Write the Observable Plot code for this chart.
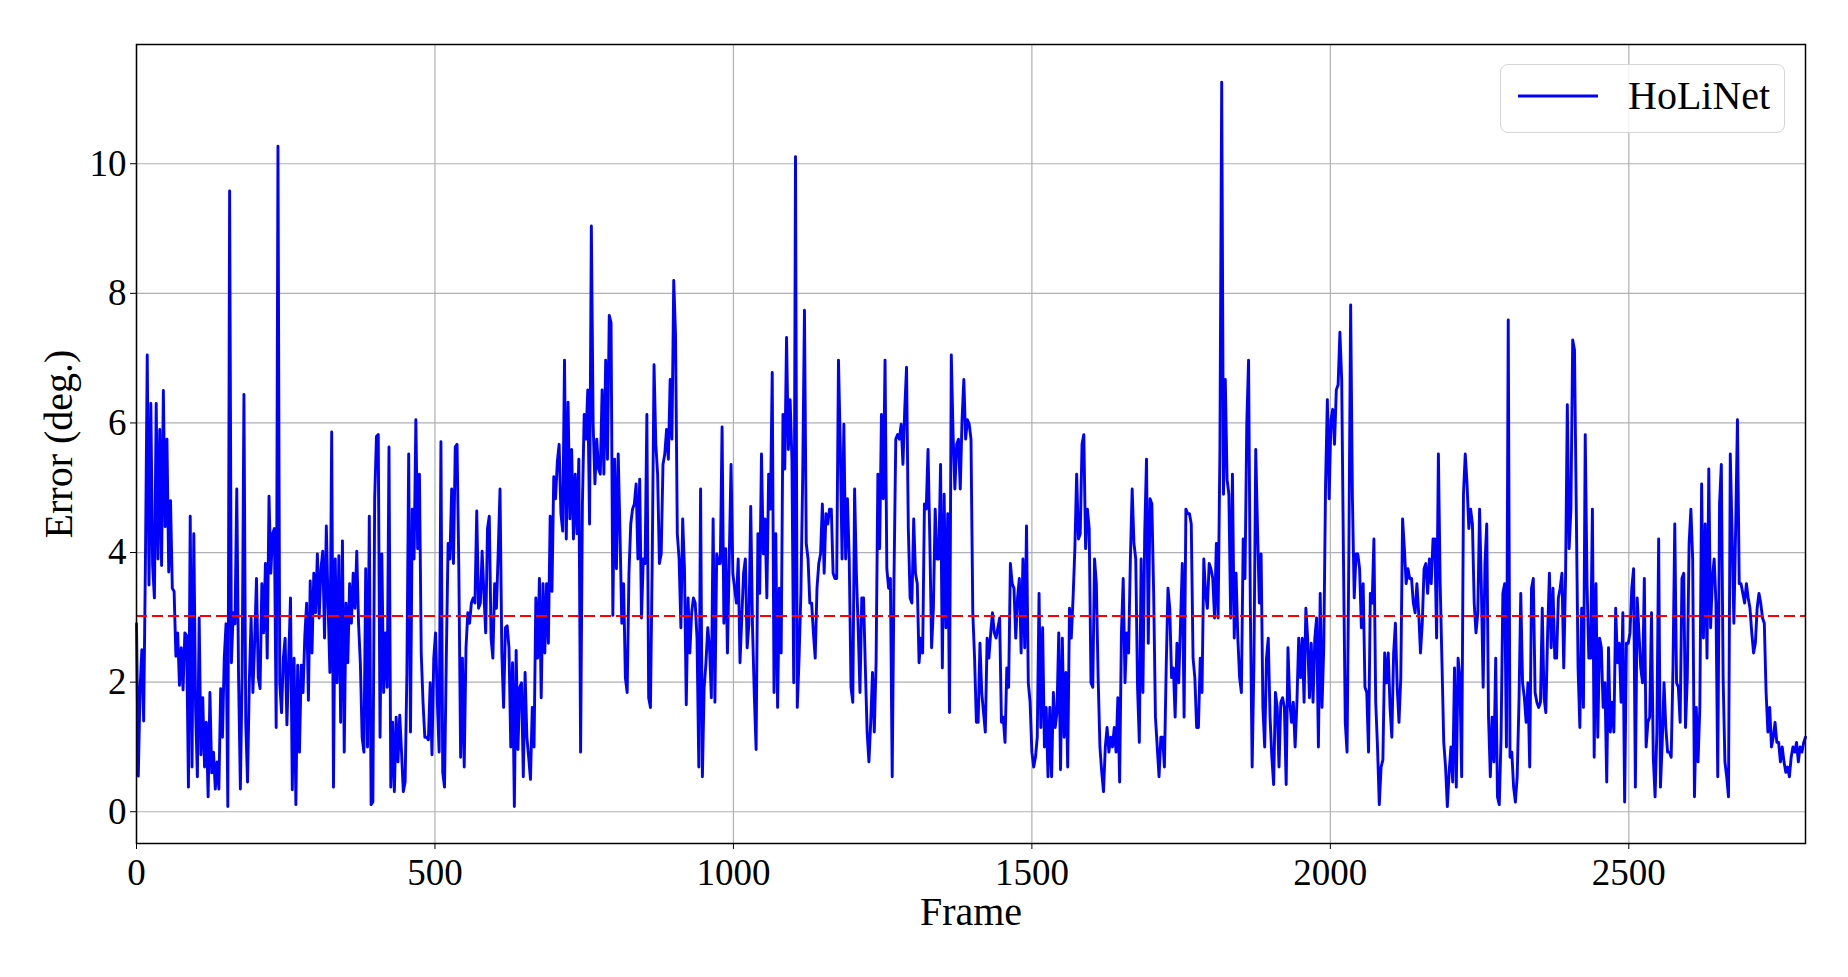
<!DOCTYPE html>
<html>
<head>
<meta charset="utf-8">
<script src="https://cdn.jsdelivr.net/npm/d3@7"></script>
<script src="https://cdn.jsdelivr.net/npm/@observablehq/plot@0.6"></script>
<style>
  html, body { margin: 0; padding: 0; background: #ffffff; }
  #wrap { position: relative; width: 1848px; height: 977px; font-family: "Liberation Serif", "Times New Roman", serif; }
  #legend { position: absolute; left: 1500px; top: 64px; width: 285px; height: 69px; box-sizing: border-box;
            border: 1.5px solid #d6d6d6; border-radius: 8px; background: rgba(255,255,255,0.85); }
  #legend svg { position: absolute; left: 0; top: 0; overflow: visible; }
</style>
</head>
<body>
<div id="wrap"></div>
<script>
// ---- data (one value every FRAME_STEP frames) ----
const FRAME_STEP = 3;
const segmentStarts = [0, 243, 486, 720, 954, 1188, 1425, 1659, 1896, 2130, 2364, 2598];

const errSeg01 = [
  2.9, 0.55, 1.9, 2.5, 1.4, 3.9, 7.05, 3.5, 6.3, 3.8,
  3.3, 6.3, 3.9, 5.9, 3.8, 6.5, 4.4, 5.75, 3.7, 4.8,
  3.45, 3.4, 2.4, 2.76, 1.95, 2.53, 1.88, 2.76, 2.72, 0.38,
  4.56, 0.69, 4.29, 1.6, 0.54, 2.99, 0.88, 1.76, 0.69, 1.38,
  0.23, 1.84, 0.6, 0.92, 0.35, 0.77, 0.35, 1.9, 1.15, 2.37,
  2.9, 0.08, 9.58, 2.3, 3.07, 2.9, 4.98, 2.07, 0.35, 2.15,
  6.44, 1.38, 0.46, 2.0, 2.99, 1.84, 2.64, 3.6, 2.07, 1.9,
  3.52, 2.76, 3.83, 2.37, 4.87, 3.68, 4.29, 4.37, 1.3, 10.27,
  1.99
];
const errSeg02 = [
  1.53, 2.37, 2.68, 1.34, 2.37, 3.3, 0.34, 2.37, 0.11, 2.26,
  0.92, 2.26, 1.84, 2.72, 3.22, 1.72, 3.56, 2.45, 3.68, 3.07,
  3.98, 2.99, 3.75, 4.02, 2.68, 4.41, 3.18, 2.15, 5.86, 0.38,
  3.9, 1.99, 3.95, 1.38, 4.18, 0.92, 3.22, 2.3, 3.52, 2.91,
  3.68, 3.14, 4.02, 2.91, 2.3, 1.15, 0.92, 3.75, 1.0, 4.56,
  0.11, 0.15, 4.83, 5.79, 5.82, 1.15, 3.98, 1.84, 2.76, 1.92,
  5.63, 0.38, 1.38, 0.31, 1.46, 0.77, 1.49, 0.92, 0.31, 0.46,
  2.15, 5.52, 1.23, 4.67, 3.9, 6.05, 4.06, 5.21, 2.45, 1.69,
  1.15
];
const errSeg03 = [
  1.15, 1.11, 1.99, 0.88, 2.37, 2.76, 1.69, 0.92, 5.71, 0.61,
  0.38, 2.37, 4.14, 3.9, 4.98, 3.83, 5.63, 5.67, 3.75, 0.84,
  2.37, 0.69, 2.53, 3.07, 2.91, 3.22, 3.3, 3.22, 4.64, 3.14,
  3.22, 4.02, 3.37, 2.76, 4.37, 4.56, 2.68, 2.37, 3.52, 3.14,
  4.02, 4.98, 2.45, 1.61, 2.84, 2.87, 2.53, 1.0, 2.3, 0.08,
  2.49, 0.96, 1.92, 1.99, 0.54, 2.15, 1.15, 0.84, 0.5, 1.61,
  1.0, 3.3, 2.37, 3.6, 1.76, 3.52, 2.45, 3.52, 2.6, 4.56,
  3.4, 5.17, 4.83, 5.4, 5.67, 4.6, 4.33, 6.97
];
const errSeg04 = [
  4.21, 6.32, 4.52, 5.59, 4.21, 5.21, 4.29, 5.44, 0.92, 4.75,
  6.13, 5.75, 6.51, 4.44, 9.04, 5.98, 5.06, 5.75, 5.29, 5.21,
  6.51, 5.21, 6.97, 5.44, 7.66, 7.55, 3.03, 5.44, 3.75, 5.52,
  4.29, 2.91, 3.52, 2.07, 1.84, 3.68, 4.44, 4.67, 4.75, 5.06,
  3.9, 5.13, 2.99, 3.9, 3.83, 6.13, 1.76, 1.61, 3.9, 6.9,
  5.67, 5.21, 3.83, 3.98, 5.36, 5.52, 5.9, 5.44, 6.67, 5.75,
  8.2, 7.36, 4.29, 3.9, 2.84, 4.52, 3.75, 1.65, 3.3, 2.45,
  3.07, 3.3, 3.22, 2.68, 0.69, 4.98, 0.54, 1.92
];
const errSeg05 = [
  2.3, 2.84, 2.53, 1.76, 4.52, 1.69, 3.98, 3.83, 3.83, 5.94,
  2.91, 4.06, 2.45, 3.9, 5.36, 3.68, 3.45, 3.22, 3.9, 2.3,
  2.99, 3.68, 3.9, 2.53, 2.91, 4.71, 2.84, 1.8, 0.96, 4.29,
  3.37, 5.52, 3.98, 4.52, 3.3, 5.21, 4.67, 6.78, 1.84, 4.29,
  1.61, 3.45, 2.45, 6.13, 5.29, 7.32, 5.59, 6.36, 5.44, 1.99,
  10.11, 1.61, 2.37, 3.37, 5.13, 7.74, 4.14, 3.9, 3.22, 3.22,
  2.76, 2.37, 3.45, 3.83, 3.98, 4.75, 3.68, 4.6, 4.44, 4.67,
  4.67, 3.68, 3.6, 3.6, 6.97, 5.67, 3.9, 5.98
];
const errSeg06 = [
  3.9, 4.83, 3.9, 1.92, 1.69, 4.98, 3.68, 2.84, 1.84, 3.3,
  3.3, 2.22, 1.23, 0.77, 1.38, 2.15, 1.23, 2.3, 5.21, 4.06,
  6.13, 4.83, 6.97, 3.75, 3.45, 3.6, 0.54, 3.6, 5.75, 5.82,
  5.75, 5.98, 5.36, 6.21, 6.86, 4.37, 3.3, 3.22, 4.52, 3.68,
  3.52, 2.3, 2.68, 2.45, 4.75, 4.67, 5.59, 4.21, 2.53, 3.14,
  4.67, 3.9, 3.9, 5.36, 2.22, 4.9, 2.84, 4.6, 1.53, 7.05,
  5.82, 4.98, 5.67, 5.75, 4.98, 6.05, 6.67, 5.75, 6.05, 5.98,
  5.75, 3.07, 2.37, 1.38, 1.38, 2.6, 1.84, 1.53, 1.23
];
const errSeg07 = [
  2.68, 2.37, 2.76, 3.07, 2.76, 2.68, 2.84, 2.99, 1.38, 1.46,
  1.07, 2.22, 1.92, 3.83, 3.52, 3.45, 2.68, 3.3, 3.6, 2.45,
  3.9, 2.53, 4.41, 1.99, 1.69, 0.92, 0.69, 0.84, 1.15, 3.37,
  1.3, 2.84, 1.0, 1.61, 0.54, 1.61, 0.54, 1.84, 1.3, 1.53,
  2.76, 0.65, 2.68, 1.15, 2.15, 0.69, 3.14, 2.68, 3.3, 4.06,
  5.21, 4.21, 4.29, 5.67, 5.82, 4.06, 4.67, 4.37, 1.99, 1.92,
  3.9, 3.52, 2.07, 1.0, 0.61, 0.31, 1.0, 1.3, 0.92, 1.15,
  1.0, 1.3, 0.92, 1.76, 0.46, 2.76, 3.6, 1.99
];
const errSeg08 = [
  2.76, 2.45, 3.9, 4.98, 4.14, 3.9, 1.92, 1.07, 3.9, 1.84,
  4.29, 5.44, 2.6, 4.83, 4.75, 3.37, 1.46, 1.0, 0.54, 1.15,
  1.15, 0.69, 2.22, 3.45, 3.14, 2.07, 2.22, 1.46, 2.6, 1.99,
  2.91, 3.83, 1.46, 4.67, 4.6, 4.6, 4.44, 2.37, 2.07, 1.3,
  1.3, 2.37, 1.84, 3.9, 3.37, 3.14, 3.83, 3.75, 3.6, 2.99,
  4.14, 2.99, 5.59, 11.26, 4.9, 6.67, 5.13, 4.9, 2.99, 5.21,
  2.68, 3.68, 2.68, 2.07, 1.84, 4.21, 3.6, 5.98, 6.97, 3.14,
  0.69, 2.3, 5.59, 4.37, 3.22, 3.98, 1.61, 1.0, 2.37
];
const errSeg09 = [
  2.68, 1.46, 0.84, 0.42, 1.84, 1.61, 0.69, 1.69, 1.76, 1.61,
  0.42, 2.53, 1.69, 1.38, 1.69, 1.0, 1.69, 2.68, 2.07, 2.68,
  1.69, 3.14, 2.68, 1.76, 2.6, 1.69, 2.68, 2.99, 1.0, 3.37,
  1.61, 2.53, 5.06, 6.36, 4.83, 6.05, 6.21, 5.67, 6.51, 6.59,
  7.4, 6.67, 3.9, 1.38, 0.92, 3.98, 7.82, 4.83, 3.3, 3.98,
  3.98, 3.75, 2.84, 3.52, 1.92, 1.84, 0.92, 3.37, 3.22, 4.21,
  1.69, 1.0, 0.11, 0.69, 0.8, 2.45, 1.99, 2.45, 1.61, 1.15,
  2.45, 2.91, 1.92, 1.38, 2.07, 4.52, 4.06, 3.52
];
const errSeg10 = [
  3.75, 3.6, 3.6, 3.22, 3.07, 3.52, 3.07, 2.45, 2.91, 3.75,
  3.83, 3.37, 3.9, 3.52, 4.21, 4.21, 2.68, 5.52, 3.52, 2.3,
  1.07, 0.69, 0.08, 0.61, 1.0, 0.46, 2.22, 0.38, 2.37, 2.07,
  0.54, 4.9, 5.52, 5.06, 4.37, 4.67, 4.44, 3.22, 2.76, 3.07,
  4.67, 3.45, 1.92, 3.83, 4.44, 1.46, 0.54, 1.46, 0.77, 2.37,
  0.23, 0.11, 1.15, 3.37, 3.52, 1.0, 7.59, 0.84, 0.92, 0.38,
  0.15, 0.54, 1.69, 3.37, 1.99, 1.76, 1.38, 1.99, 0.69, 3.45,
  3.6, 1.84, 1.69, 1.61, 1.69, 3.14, 1.76, 1.53
];
const errSeg11 = [
  2.76, 3.68, 2.53, 3.45, 2.37, 2.37, 3.3, 3.45, 3.68, 2.22,
  3.6, 6.28, 4.06, 4.67, 7.28, 7.13, 4.67, 2.22, 1.3, 3.14,
  1.61, 5.82, 3.52, 2.37, 2.37, 4.67, 0.84, 3.52, 1.15, 2.68,
  2.53, 1.61, 1.99, 0.46, 2.53, 1.23, 1.69, 1.23, 3.14, 2.3,
  2.6, 1.69, 3.07, 0.15, 2.6, 2.6, 2.76, 3.45, 3.75, 0.38,
  3.3, 2.76, 2.22, 1.99, 3.6, 1.0, 1.38, 1.46, 3.07, 0.84,
  0.23, 1.23, 4.21, 0.38, 1.07, 1.99, 1.3, 0.92, 0.92, 0.84,
  2.22, 4.44, 1.99, 1.92, 1.38, 3.6, 3.68, 1.3
];
const errSeg12 = [
  2.07, 4.14, 4.67, 3.9, 0.23, 1.61, 0.77, 1.61, 5.06, 2.68,
  4.44, 2.37, 5.29, 2.84, 3.6, 3.9, 3.22, 0.54, 4.75, 5.36,
  2.07, 0.77, 0.54, 0.23, 5.52, 4.29, 2.91, 4.37, 6.05, 3.52,
  3.52, 3.37, 3.22, 3.52, 3.3, 3.14, 2.76, 2.45, 2.6, 3.14,
  3.37, 3.22, 2.99, 2.91, 1.84, 1.23, 1.61, 1.0, 1.15, 1.38,
  1.07, 1.07, 0.77, 1.0, 0.77, 0.61, 0.69, 0.54, 0.84, 1.0,
  0.92, 1.07, 0.77, 1.0, 0.92, 1.07, 1.15
];

const meanError = 3.02;          // red dashed reference line
const seriesName = "HoLiNet";
const xLabel = "Frame";
const yLabel = "Error (deg.)";
const xTicks = [0, 500, 1000, 1500, 2000, 2500];
const yTicks = [0, 2, 4, 6, 8, 10];
const xDomain = [0, 2796];
const yDomain = [-0.49, 11.84];

// ---- build the table ----
const segments = [errSeg01, errSeg02, errSeg03, errSeg04, errSeg05, errSeg06,
                  errSeg07, errSeg08, errSeg09, errSeg10, errSeg11, errSeg12];
const data = [];
segments.forEach((seg, s) => seg.forEach((v, i) => data.push({ frame: segmentStarts[s] + i * FRAME_STEP, error: v })));

const font = '"Liberation Serif", "Times New Roman", serif';
const gridStyle = { stroke: "#b0b0b0", strokeOpacity: 1, strokeWidth: 1.2 };

const chart = Plot.plot({
  width: 1848,
  height: 977,
  marginLeft: 136,
  marginRight: 43,
  marginTop: 44,
  marginBottom: 134,
  style: { fontFamily: font, background: "#ffffff", color: "#000000", overflow: "visible" },
  x: { domain: xDomain },
  y: { domain: yDomain },
  marks: [
    Plot.gridX(xTicks, gridStyle),
    Plot.gridY(yTicks, gridStyle),
    Plot.axisX(xTicks, { tickSize: 6, tickPadding: 9, fontSize: 37, tickFormat: d => String(d), label: null }),
    Plot.axisY(yTicks, { tickSize: 6, tickPadding: 4, fontSize: 37, tickFormat: d => String(d), label: null }),
    Plot.lineY(data, { x: "frame", y: "error", stroke: "#0000ff", strokeWidth: 2.9, strokeLinejoin: "round" }),
    Plot.ruleY([meanError], { stroke: "#ff0000", strokeWidth: 2, strokeDasharray: "11,5" }),
    Plot.frame({ stroke: "#000000", strokeWidth: 1.5 }),
    Plot.text([xLabel], { frameAnchor: "bottom", dy: 69, lineAnchor: "middle", fontSize: 40, fill: "#000000" }),
    Plot.text([yLabel], { frameAnchor: "left", dx: -77, rotate: -90, lineAnchor: "middle", textAnchor: "middle", fontSize: 40, fill: "#000000" })
  ]
});

const wrap = document.getElementById("wrap");
wrap.appendChild(chart);

// ---- legend (upper right, like matplotlib) ----
const legend = d3.select(wrap).append("div").attr("id", "legend");
const lsvg = legend.append("svg").attr("width", 285).attr("height", 69);
lsvg.append("line").attr("x1", 17).attr("x2", 97).attr("y1", 31).attr("y2", 31)
    .attr("stroke", "#0000ff").attr("stroke-width", 2.9);
lsvg.append("text").attr("x", 127).attr("y", 44).attr("font-size", 40)
    .attr("font-family", font).attr("fill", "#000000").text(seriesName);
</script>
</body>
</html>
